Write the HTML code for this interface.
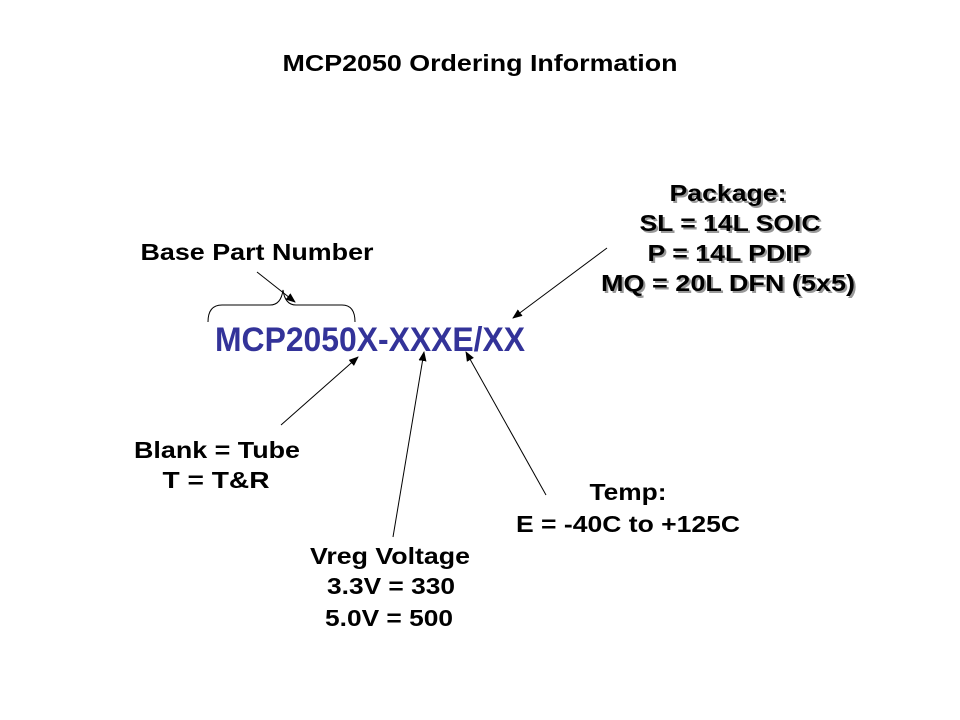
<!DOCTYPE html>
<html><head><style>body{margin:0;background:#fff}svg{display:block}text{font-family:"Liberation Sans",Arial,sans-serif;font-weight:bold}</style></head><body>
<svg width="960" height="720" viewBox="0 0 960 720">
<defs><marker id="a" markerWidth="10" markerHeight="8" refX="9" refY="4" orient="auto" markerUnits="userSpaceOnUse"><path d="M0,0 L10,4 L0,8 z" fill="#000"/></marker></defs>
<text x="480" y="71" font-size="23" text-anchor="middle" textLength="395" lengthAdjust="spacingAndGlyphs">MCP2050 Ordering Information</text>
<text x="257" y="260" font-size="23" text-anchor="middle" textLength="233" lengthAdjust="spacingAndGlyphs">Base Part Number</text>
<g font-size="23" text-anchor="middle">
<g fill="#999" transform="translate(2,2)"><text x="728" y="201" textLength="117" lengthAdjust="spacingAndGlyphs">Package:</text><text x="730" y="231" textLength="181" lengthAdjust="spacingAndGlyphs">SL = 14L SOIC</text><text x="729" y="261" textLength="163" lengthAdjust="spacingAndGlyphs">P = 14L PDIP</text><text x="728" y="291" textLength="254" lengthAdjust="spacingAndGlyphs">MQ = 20L DFN (5x5)</text></g>
<text x="728" y="201" textLength="117" lengthAdjust="spacingAndGlyphs">Package:</text><text x="730" y="231" textLength="181" lengthAdjust="spacingAndGlyphs">SL = 14L SOIC</text><text x="729" y="261" textLength="163" lengthAdjust="spacingAndGlyphs">P = 14L PDIP</text><text x="728" y="291" textLength="254" lengthAdjust="spacingAndGlyphs">MQ = 20L DFN (5x5)</text>
</g>
<text x="370" y="351" font-size="34" fill="#333399" text-anchor="middle" textLength="310" lengthAdjust="spacingAndGlyphs">MCP2050X-XXXE/XX</text>
<path d="M208,322 Q208,305 222,305 L270,305 Q281,305 283,290 Q285,305 296,305 L342,305 Q355,305 355,322" fill="none" stroke="#000" stroke-width="1"/>
<g stroke="#000" stroke-width="1" marker-end="url(#a)">
<line x1="257" y1="272" x2="295" y2="302"/>
<line x1="607" y1="248" x2="513" y2="318"/>
<line x1="281" y1="425" x2="358" y2="357"/>
<line x1="393" y1="537" x2="424" y2="352"/>
<line x1="546" y1="495" x2="466" y2="352"/>
</g>
<g font-size="23" text-anchor="middle">
<text x="217" y="458" textLength="166" lengthAdjust="spacingAndGlyphs">Blank = Tube</text><text x="216" y="488" textLength="107" lengthAdjust="spacingAndGlyphs">T = T&amp;R</text>
<text x="628" y="500" textLength="77" lengthAdjust="spacingAndGlyphs">Temp:</text><text x="628" y="532" textLength="224" lengthAdjust="spacingAndGlyphs">E = -40C to +125C</text>
<text x="390" y="564" textLength="160" lengthAdjust="spacingAndGlyphs">Vreg Voltage</text><text x="391" y="594" textLength="128" lengthAdjust="spacingAndGlyphs">3.3V = 330</text><text x="389" y="626" textLength="128" lengthAdjust="spacingAndGlyphs">5.0V = 500</text>
</g>
</svg></body></html>
